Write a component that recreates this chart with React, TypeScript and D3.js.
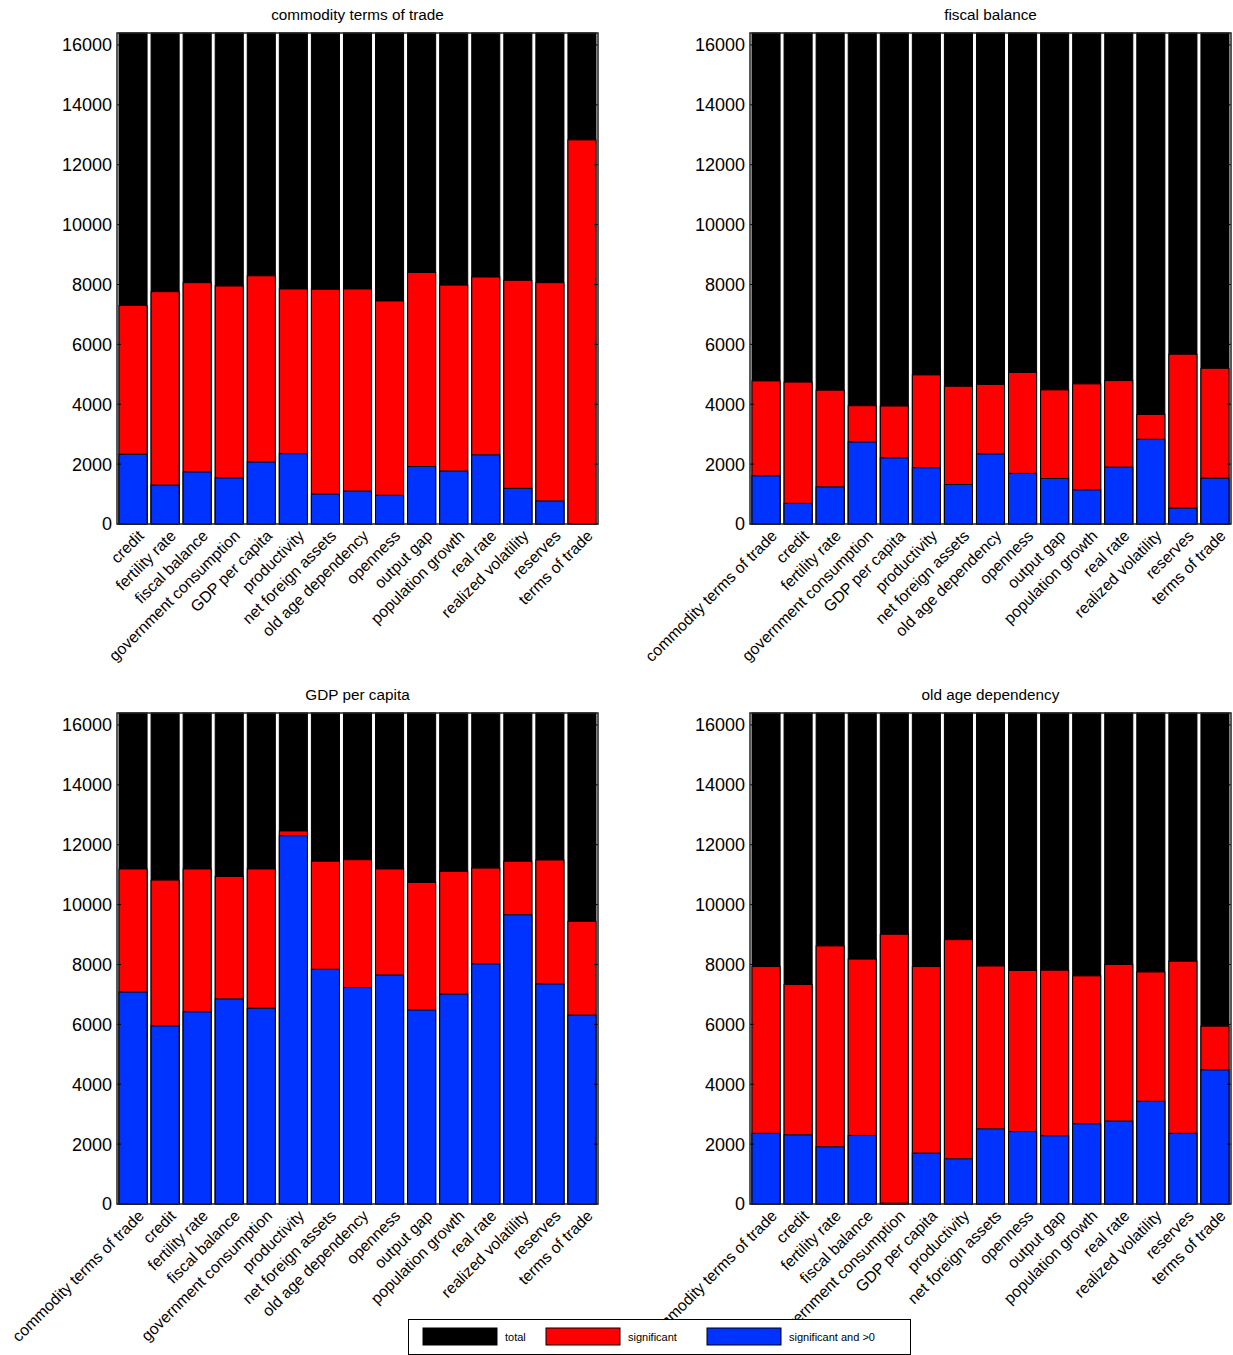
import React from "react";
import * as d3 from "d3";

const allVars = [
  "commodity terms of trade", "credit", "fertility rate", "fiscal balance",
  "government consumption", "GDP per capita", "productivity", "net foreign assets",
  "old age dependency", "openness", "output gap", "population growth",
  "real rate", "realized volatility", "reserves", "terms of trade",
];

const panelTitles = ["commodity terms of trade", "fiscal balance", "GDP per capita", "old age dependency"];

const yTicks = [0, 2000, 4000, 6000, 8000, 10000, 12000, 14000, 16000];
const yMax = 16400;
const totalCount = 16400;

// significant counts per panel (order = allVars minus panel title)
const sigCommodity = [7300, 7760, 8060, 7950, 8290, 7850, 7840, 7850, 7450, 8400, 7980, 8250, 8140, 8060, 12830];
const posCommodity = [2330, 1300, 1740, 1540, 2070, 2350, 1000, 1100, 960, 1920, 1770, 2310, 1190, 770, 0];

const sigFiscal = [4780, 4740, 4470, 3950, 3940, 4980, 4600, 4660, 5060, 4480, 4680, 4790, 3660, 5670, 5200];
const posFiscal = [1610, 690, 1240, 2740, 2210, 1880, 1320, 2340, 1690, 1520, 1140, 1900, 2830, 530, 1530];

const sigGDP = [11190, 10820, 11190, 10940, 11190, 12460, 11450, 11500, 11190, 10740, 11110, 11220, 11450, 11490, 9440];
const posGDP = [7080, 5950, 6420, 6850, 6540, 12300, 7840, 7230, 7650, 6480, 7010, 8020, 9660, 7350, 6310];

const sigOld = [7930, 7330, 8620, 8180, 9010, 7930, 8830, 7950, 7800, 7810, 7620, 8000, 7750, 8110, 5940];
const posOld = [2360, 2310, 1910, 2290, 30, 1700, 1510, 2510, 2420, 2280, 2680, 2770, 3430, 2360, 4480];

const sigSeries = [sigCommodity, sigFiscal, sigGDP, sigOld];
const posSeries = [posCommodity, posFiscal, posGDP, posOld];

const legendLabels = ["total", "significant", "significant and >0"];
const colors = ["#000000", "#ff0000", "#0033ff"];

const FONT = "'Liberation Sans', Arial, Helvetica, sans-serif";

const panelPos = [
  { x: 117, y: 33 },
  { x: 750, y: 33 },
  { x: 117, y: 713 },
  { x: 750, y: 713 },
];
const PW = 481;
const PH = 491;

function Panel({ idx }: { idx: number }) {
  const { x: ox, y: oy } = panelPos[idx];
  const title = panelTitles[idx];
  const cats = allVars.filter((v) => v !== title);
  const sig = sigSeries[idx];
  const pos = posSeries[idx];
  const xs = d3.scaleBand<string>().domain(cats).range([0, PW]).paddingInner(0.125).paddingOuter(0.0625);
  const ys = d3.scaleLinear().domain([0, yMax]).range([PH, 0]);
  const bw = xs.bandwidth();
  return (
    <g transform={`translate(${ox},${oy})`}>
      <text x={PW / 2} y={-13} textAnchor="middle" fontSize={15.3} fontFamily={FONT}>
        {title}
      </text>
      {cats.map((c, i) => {
        const bx = xs(c)!;
        return (
          <g key={c}>
            <rect x={bx} y={ys(totalCount)} width={bw} height={ys(0) - ys(totalCount)} fill={colors[0]} stroke="#000" strokeWidth={1} />
            {sig[i] > 0 && (
              <rect x={bx} y={ys(sig[i])} width={bw} height={ys(0) - ys(sig[i])} fill={colors[1]} stroke="#000" strokeWidth={1} />
            )}
            {pos[i] > 0 && (
              <rect x={bx} y={ys(pos[i])} width={bw} height={ys(0) - ys(pos[i])} fill={colors[2]} stroke="#000" strokeWidth={1} />
            )}
          </g>
        );
      })}
      {yTicks.map((t) => (
        <g key={t}>
          <line x1={0} x2={4} y1={ys(t)} y2={ys(t)} stroke="#000" strokeWidth={1} />
          <line x1={PW - 4} x2={PW} y1={ys(t)} y2={ys(t)} stroke="#000" strokeWidth={1} />
          <text x={-5} y={ys(t)} dy="0.36em" textAnchor="end" fontSize={18} fontFamily={FONT}>
            {t}
          </text>
        </g>
      ))}
      <rect x={0} y={0} width={PW} height={PH} fill="none" stroke="#222" strokeWidth={1.5} />
      {cats.map((c) => {
        const cx = xs(c)! + bw / 2 + 4;
        const cy = PH + 5;
        return (
          <text key={c} transform={`translate(${cx},${cy}) rotate(-45)`} textAnchor="end" dy="0.7em" fontSize={15.8} fontFamily={FONT}>
            {c}
          </text>
        );
      })}
    </g>
  );
}

export default function App() {
  const legX = [423, 546, 707];
  return (
    <svg width={1233} height={1355} style={{ position: "absolute", left: 0, top: 0, background: "#fff" }}>
      <rect x={0} y={0} width={1233} height={1355} fill="#fff" />
      {[0, 1, 2, 3].map((i) => (
        <Panel key={i} idx={i} />
      ))}
      <g>
        <rect x={408.5} y={1319.5} width={502} height={35} fill="#fff" stroke="#000" strokeWidth={1} />
        {legendLabels.map((l, i) => (
          <g key={l}>
            <rect x={legX[i]} y={1328} width={74} height={17} fill={colors[i]} stroke="#000" strokeWidth={1} />
            <text x={legX[i] + 82} y={1337} dy="0.35em" fontSize={11} fontFamily={FONT}>
              {l}
            </text>
          </g>
        ))}
      </g>
    </svg>
  );
}
